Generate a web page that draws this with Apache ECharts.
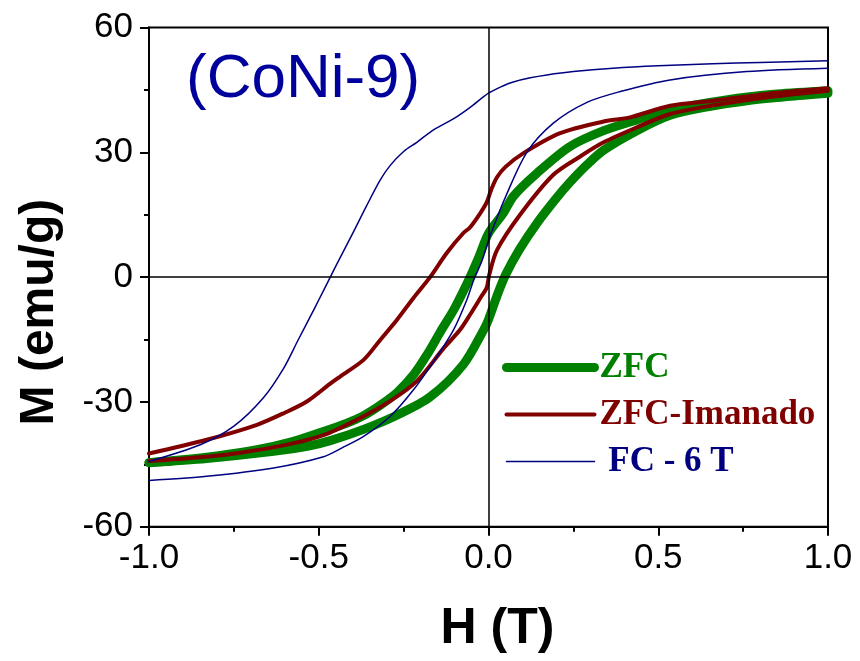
<!DOCTYPE html>
<html>
<head>
<meta charset="utf-8">
<script src="https://cdn.jsdelivr.net/npm/echarts@6/dist/echarts.min.js"></script>
<style>html,body{margin:0;padding:0;background:#fff}#c{width:860px;height:661px}</style>
</head>
<body>
<div id="c"></div>
<script>
// ---- data (H in T, M in emu/g) ----
// ZFC: descending branch (+1 -> -1) and ascending branch (-1 -> +1)
var zfcDownH = [1.00,0.85,0.70,0.535,0.437,0.339,0.24,0.143,0.074,0.044,0.0,-0.03,-0.06,-0.10,-0.142,-0.18,-0.221,-0.27,-0.319,-0.368,-0.417,-0.486,-0.58,-0.682,-0.80,-0.90,-1.00];
var zfcDownM = [44.8,44.0,42.6,40.2,37.8,35.2,31.4,25.0,19.5,15.4,10.5,4.5,-1.0,-7.5,-13.2,-18.5,-23.5,-27.8,-30.8,-33.3,-35.1,-37.1,-39.6,-41.5,-43.0,-43.9,-44.6];
var zfcUpH = [-1.00,-0.83,-0.633,-0.53,-0.466,-0.368,-0.27,-0.172,-0.074,-0.015,0.0,0.025,0.05,0.09,0.143,0.20,0.24,0.29,0.339,0.437,0.535,0.65,0.761,0.88,1.00];
var zfcUpM = [-44.6,-43.6,-41.9,-40.6,-39.3,-36.6,-33.2,-28.8,-21.0,-12.8,-10.2,-4.5,0.5,6.5,13.0,19.0,22.8,27.0,30.5,35.2,38.9,41.0,42.4,43.4,44.2];

// ZFC-Imanado
var imanDownH = [1.00,0.85,0.663,0.535,0.417,0.339,0.211,0.103,0.05,0.025,0.008,-0.005,-0.024,-0.054,-0.074,-0.123,-0.172,-0.221,-0.27,-0.319,-0.368,-0.437,-0.466,-0.535,-0.60,-0.682,-0.83,-1.00];
var imanDownM = [45.4,44.3,42.4,41.2,38.4,37.4,34.6,29.8,26.5,24.0,21.0,18.0,15.4,12.0,10.6,5.8,0.0,-5.0,-10.3,-15.1,-19.9,-23.9,-25.6,-29.9,-32.6,-35.5,-39.1,-42.4];
var imanUpH = [-1.00,-0.85,-0.731,-0.60,-0.486,-0.388,-0.29,-0.211,-0.133,-0.085,-0.054,-0.02,-0.005,0.002,0.025,0.093,0.191,0.27,0.339,0.437,0.535,0.663,0.80,1.00];
var imanUpM = [-44.2,-43.3,-42.2,-40.4,-38.0,-34.3,-29.8,-25.0,-17.2,-12.8,-9.0,-4.5,-2.5,0.5,6.5,15.0,24.6,29.0,32.4,36.0,39.2,41.3,43.0,44.8];

// FC - 6 T
var fcDownH = [1.00,0.80,0.66,0.50,0.367,0.25,0.172,0.123,0.073,0.044,0.0,-0.054,-0.10,-0.162,-0.211,-0.25,-0.29,-0.32,-0.36,-0.40,-0.435,-0.466,-0.50,-0.525,-0.56,-0.604,-0.663,-0.751,-0.849,-1.00];
var fcDownM = [52.0,51.6,51.3,50.8,50.2,49.4,48.6,47.9,46.9,46.0,44.2,40.8,38.2,35.4,32.4,30.2,26.8,23.2,17.0,10.5,5.0,0.0,-5.5,-9.5,-15.0,-22.0,-29.0,-35.9,-40.3,-44.3];
var fcUpH = [-1.00,-0.83,-0.633,-0.486,-0.43,-0.368,-0.29,-0.221,-0.152,-0.103,-0.064,-0.044,-0.019,0.005,0.054,0.113,0.191,0.29,0.388,0.535,0.761,1.00];
var fcUpM = [-48.9,-47.9,-45.9,-43.2,-41.0,-38.3,-33.5,-27.1,-19.1,-12.7,-5.5,-0.8,4.0,10.0,20.0,30.0,37.0,42.0,44.6,47.4,49.4,50.2];

var seriesNames = ['ZFC', 'ZFC-Imanado', 'FC - 6 T'];
var xTicks = [-1.0, -0.5, 0.0, 0.5, 1.0];
var yTicks = [-60, -30, 0, 30, 60];
var sampleLabel = '(CoNi-9)';

function pairs(h, m) { return h.map(function (v, i) { return [v, m[i]]; }); }

var chart = echarts.init(document.getElementById('c'), null, {renderer: 'canvas'});
var sans = "'Liberation Sans', Arial, sans-serif";
var serif = "'Liberation Serif', 'Times New Roman', serif";
var colors = ['#008000', '#800000', '#000080'];
var widths = [9, 4, 1.5];

function branch(idx, h, m, z, extra) {
  var s = {
    name: seriesNames[idx], type: 'line', data: pairs(h, m), showSymbol: false, symbol: 'none',
    smooth: 0.3,
    lineStyle: {color: colors[idx], width: widths[idx], cap: 'round', join: 'round'},
    itemStyle: {color: colors[idx]}, z: z
  };
  if (extra) { for (var k in extra) s[k] = extra[k]; }
  return s;
}

chart.setOption({
  animation: false,
  backgroundColor: '#fff',
  title: {
    text: sampleLabel, left: 181, top: 44,
    textStyle: {fontFamily: sans, fontSize: 62, fontWeight: 'normal', color: '#00009c'}
  },
  grid: {left: 149, right: 32, top: 27.5, bottom: 134.3, show: true, borderColor: '#000', borderWidth: 2, backgroundColor: 'transparent'},
  legend: {
    orient: 'vertical', left: 497, top: 345, itemWidth: 88, itemHeight: 27, itemGap: 12,
    itemStyle: {opacity: 0, borderWidth: 0},
    data: [
      {name: seriesNames[0], textStyle: {color: colors[0]}, lineStyle: {width: widths[0], cap: 'round'}},
      {name: seriesNames[1], textStyle: {color: colors[1]}, lineStyle: {width: widths[1], cap: 'round'}},
      {name: seriesNames[2], textStyle: {color: colors[2]}, lineStyle: {width: widths[2]}}
    ],
    formatter: function (n) { return n === seriesNames[2] ? ' ' + n : n; },
    textStyle: {fontFamily: serif, fontSize: 35, fontWeight: 'bold'},
    selectedMode: false
  },
  xAxis: {
    type: 'value', min: xTicks[0], max: xTicks[xTicks.length - 1], interval: 0.5,
    name: 'H (T)', nameLocation: 'middle', nameGap: 78,
    nameTextStyle: {fontFamily: sans, fontSize: 50, fontWeight: 'bold', color: '#000', padding: [0, 0, 0, 18]},
    axisLine: {onZero: false, lineStyle: {color: '#000', width: 2}},
    axisTick: {show: true, length: 9, lineStyle: {color: '#000', width: 2}},
    minorTick: {show: true, splitNumber: 2, length: 5, lineStyle: {color: '#000', width: 2}},
    axisLabel: {fontFamily: sans, fontSize: 35, color: '#000', margin: 14, formatter: function (v) { return v.toFixed(1); }},
    splitLine: {show: false}
  },
  yAxis: {
    type: 'value', min: yTicks[0], max: yTicks[yTicks.length - 1], interval: 30,
    name: 'M (emu/g)', nameLocation: 'middle', nameGap: 85,
    nameTextStyle: {fontFamily: sans, fontSize: 48, fontWeight: 'bold', color: '#000', padding: [0, 70, 0, 0]},
    axisLine: {onZero: false, lineStyle: {color: '#000', width: 2}},
    axisTick: {show: true, length: 9, lineStyle: {color: '#000', width: 2}},
    minorTick: {show: true, splitNumber: 2, length: 5, lineStyle: {color: '#000', width: 2}},
    axisLabel: {fontFamily: sans, fontSize: 35, color: '#000', margin: 16},
    splitLine: {show: false}
  },
  series: [
    branch(0, zfcDownH, zfcDownM, 2, {
      markLine: {
        silent: true, symbol: 'none', label: {show: false},
        lineStyle: {color: '#000', width: 1.5, type: 'solid'},
        data: [{xAxis: 0}, {yAxis: 0}]
      }
    }),
    branch(0, zfcUpH, zfcUpM, 2),
    branch(1, imanDownH, imanDownM, 3),
    branch(1, imanUpH, imanUpM, 3),
    branch(2, fcDownH, fcDownM, 4),
    branch(2, fcUpH, fcUpM, 4)
  ]
});
</script>
</body>
</html>
